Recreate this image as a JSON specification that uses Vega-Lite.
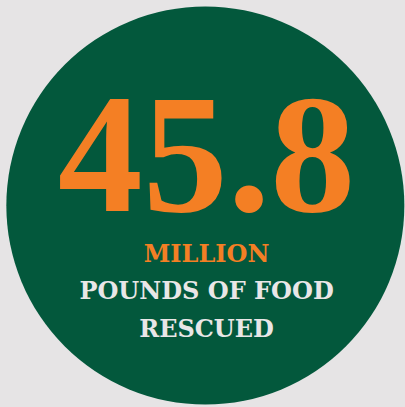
{
  "$schema": "https://vega.github.io/schema/vega-lite/v6.json",
  "width": 405,
  "height": 407,
  "autosize": {"type": "fit", "contains": "padding"},
  "padding": 0,
  "background": "#e6e4e5",
  "config": {"view": {"stroke": null}},
  "datasets": {
    "badge": [{"cx": 50.7, "cy": 50.5}],
    "headline": [{"text": "45.8", "x": 51.0, "y": 51.8}],
    "unit": [{"text": "MILLION", "x": 51.0, "y": 64.4}],
    "caption": [
      {"text": "POUNDS OF FOOD", "x": 51.0, "y": 73.5},
      {"text": "RESCUED", "x": 51.0, "y": 82.7}
    ]
  },
  "layer": [
    {
      "data": {"name": "badge"},
      "mark": {"type": "point", "shape": "circle", "filled": true, "color": "#03583c", "opacity": 1, "size": 158404, "strokeWidth": 0},
      "encoding": {
        "x": {"field": "cx", "type": "quantitative", "scale": {"domain": [0, 100]}, "axis": null},
        "y": {"field": "cy", "type": "quantitative", "scale": {"domain": [0, 100], "reverse": true}, "axis": null}
      }
    },
    {
      "data": {"name": "headline"},
      "mark": {"type": "text", "font": "Liberation Serif", "fontWeight": "bold", "fontSize": 170, "color": "#f47f24", "align": "center", "baseline": "alphabetic"},
      "encoding": {
        "x": {"field": "x", "type": "quantitative", "scale": {"domain": [0, 100]}, "axis": null},
        "y": {"field": "y", "type": "quantitative", "scale": {"domain": [0, 100], "reverse": true}, "axis": null},
        "text": {"field": "text"}
      }
    },
    {
      "data": {"name": "unit"},
      "mark": {"type": "text", "font": "DejaVu Serif", "fontWeight": "bold", "fontSize": 24, "color": "#f47f24", "align": "center", "baseline": "alphabetic"},
      "encoding": {
        "x": {"field": "x", "type": "quantitative", "scale": {"domain": [0, 100]}, "axis": null},
        "y": {"field": "y", "type": "quantitative", "scale": {"domain": [0, 100], "reverse": true}, "axis": null},
        "text": {"field": "text"}
      }
    },
    {
      "data": {"name": "caption"},
      "mark": {"type": "text", "font": "DejaVu Serif", "fontWeight": "bold", "fontSize": 24, "color": "#e9e7e7", "align": "center", "baseline": "alphabetic"},
      "encoding": {
        "x": {"field": "x", "type": "quantitative", "scale": {"domain": [0, 100]}, "axis": null},
        "y": {"field": "y", "type": "quantitative", "scale": {"domain": [0, 100], "reverse": true}, "axis": null},
        "text": {"field": "text"}
      }
    }
  ]
}
